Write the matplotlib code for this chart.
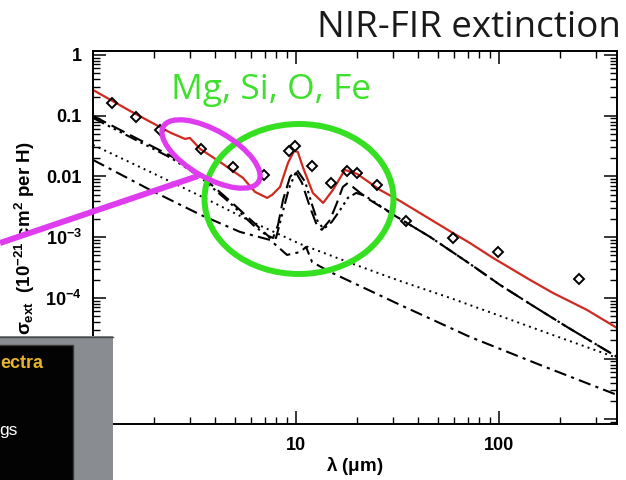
import matplotlib
matplotlib.use("Agg")
import matplotlib.pyplot as plt
from matplotlib.patches import Ellipse, Rectangle
from matplotlib.lines import Line2D
from matplotlib.ticker import FixedLocator, FixedFormatter, LogLocator, NullFormatter

plt.rcParams['mathtext.fontset'] = 'custom'
plt.rcParams['mathtext.rm'] = 'Liberation Sans:bold'
plt.rcParams['mathtext.it'] = 'Liberation Sans:bold'
plt.rcParams['mathtext.bf'] = 'Liberation Sans:bold'
plt.rcParams['font.family'] = ['Liberation Sans', 'DejaVu Sans']

# ---------------- data (wavelength in micron, sigma_ext in 1e-21 cm^2 per H) -------------
wl_total = [1.0, 1.52, 2.42, 2.84, 3.00, 3.37, 4.22, 5.48, 6.28, 7.20, 7.62, 8.34, 9.13,
            9.78, 10.2, 10.8, 12.1, 13.6, 15.2, 17.4, 20.0, 25.9, 32.5, 59.3, 71.9, 93.4,
            142, 184, 271, 381]
sig_total = [0.265, 0.120, 0.052, 0.0414, 0.043, 0.0284, 0.0173, 0.00945, 0.00556, 0.00443,
             0.00496, 0.0067, 0.0167, 0.0263, 0.0253, 0.0143, 0.00535, 0.00366, 0.0060,
             0.0128, 0.0110, 0.0060, 0.00395, 0.00117, 8.0e-4, 4.55e-4, 1.98e-4, 1.21e-4,
             6.34e-5, 3.2e-5]

wl_obs = [1.24, 1.63, 2.14, 3.40, 4.89, 6.96, 9.24, 9.89, 12.0, 14.9, 17.8, 20.0, 25.1,
          34.8, 59.3, 98.9, 248]
sig_obs = [0.162, 0.0953, 0.0583, 0.0284, 0.0143, 0.0106, 0.0263, 0.0318, 0.0149, 0.0078,
           0.0123, 0.0114, 0.00724, 0.00185, 9.7e-4, 5.7e-4, 2.05e-4]

wl_dash = [1.0, 1.52, 2.42, 3.37, 4.73, 6.14, 7.28, 7.70, 8.15, 8.63, 9.34, 9.89, 10.7, 11.7,
           12.7, 13.4, 14.7, 15.9, 17.0, 18.0, 20.7, 23.1, 31.4, 45.7, 71.9, 101, 147, 216, 381]
sig_dash = [0.099, 0.0482, 0.0217, 0.0106, 0.00395, 0.00178, 0.00105, 9.7e-4, 0.00159,
            0.0041, 0.0098, 0.0123, 0.00782, 0.00315, 0.00153, 0.00132, 0.00192, 0.00366,
            0.0067, 0.00782, 0.00535, 0.0041, 0.00215, 0.00101, 3.63e-4, 1.64e-4, 7.4e-5,
            3.33e-5, 1.07e-5]

wl_ddd = [1.0, 1.52, 2.42, 3.37, 4.73, 6.14, 7.45, 7.97, 8.53, 9.24, 10.1, 11.1, 12.0, 12.8,
          13.7, 15.0, 16.5, 18.0, 19.8, 21.9, 31.4, 45.7, 71.9, 101, 147, 216, 381]
sig_ddd = [0.0918, 0.0447, 0.0202, 0.0098, 0.00366, 0.00159, 9.7e-4, 9.7e-4, 0.00232,
           0.00647, 0.0128, 0.0081, 0.0034, 0.00178, 0.00137, 0.00178, 0.00281, 0.00443,
           0.00535, 0.00478, 0.00215, 0.00101, 3.63e-4, 1.64e-4, 7.4e-5, 3.33e-5, 1.07e-5]

wl_dot = [1.0, 1.91, 3.37, 5.93, 10.5, 18.5, 32.5, 57.4, 101, 178, 381]
sig_dot = [0.033, 0.0119, 0.00478, 0.00185, 7.7e-4, 3.77e-4, 1.9e-4, 1.0e-4, 5.06e-5,
           2.55e-5, 1.03e-5]

wl_dashdot = [1.0, 1.91, 3.40, 5.30, 7.45, 9.03, 10.5, 11.2, 12.0, 14.7, 32.5, 71.9, 159, 381]
sig_dashdot = [0.0187, 0.0060, 0.00232, 0.00122, 9.0e-4, 5.1e-4, 5.7e-4, 6.9e-4, 3.9e-4,
               2.68e-4, 7.7e-5, 2.28e-5, 7.9e-6, 2.53e-6]

x_major = [1, 10, 100]
x_labels = ['1', '10', '100']
y_major = [1e-6, 1e-5, 1e-4, 1e-3, 1e-2, 1e-1, 1]
y_labels = ['$10^{-6}$', '$10^{-5}$', '$10^{-4}$', '$10^{-3}$', '0.01', '0.1', '1']

title_text = 'NIR-FIR extinction'
element_text = 'Mg, Si, O, Fe'
inset_title = 'ectra'
inset_item = 'gs'

# ---------------- figure ---------------------------------------------------------------
W, H = 626, 480
fig = plt.figure(figsize=(W / 100, H / 100), dpi=100)
fig.patch.set_facecolor('white')


def fx(px):
    return px / W


def fy(py):
    return 1 - py / H


ax = fig.add_axes([fx(93), fy(424), fx(617) - fx(93), fy(51) - fy(424)])
ax.set_xscale('log')
ax.set_yscale('log')

lw = 1.5
ax.plot(wl_dot, sig_dot, color='black', lw=1.4, ls=(0, (1, 2.2)))
ax.plot(wl_dashdot, sig_dashdot, color='black', lw=lw, ls=(0, (6, 2.5, 1.5, 2.5)))
ax.plot(wl_ddd, sig_ddd, color='black', lw=lw, ls=(0, (6, 2, 1.2, 2, 1.2, 2, 1.2, 2)))
ax.plot(wl_dash, sig_dash, color='black', lw=lw, ls=(0, (7, 3)))
ax.plot(wl_total, sig_total, color='#cf2a1f', lw=1.6)
ax.plot(wl_obs, sig_obs, ls='none', marker='D', ms=4.8, mfc='none', mec='black', mew=1.4)

ax.set_xlim(1, 381)
ax.set_ylim(8.4e-7, 1.16)

ax.xaxis.set_major_locator(FixedLocator(x_major))
ax.xaxis.set_major_formatter(FixedFormatter(x_labels))
ax.xaxis.set_minor_locator(LogLocator(base=10, subs=[2, 3, 4, 5, 6, 7, 8, 9]))
ax.xaxis.set_minor_formatter(NullFormatter())
ax.yaxis.set_major_locator(FixedLocator(y_major))
ax.yaxis.set_major_formatter(FixedFormatter(y_labels))
ax.yaxis.set_minor_locator(LogLocator(base=10, subs=[2, 3, 4, 5, 6, 7, 8, 9], numticks=20))
ax.yaxis.set_minor_formatter(NullFormatter())

ax.tick_params(which='both', direction='in', top=True, right=True)
ax.tick_params(which='major', length=9.5, width=1.1, labelsize=13)
ax.tick_params(axis='x', which='major', pad=9)
ax.tick_params(axis='y', which='major', pad=8)
ax.tick_params(which='minor', length=5, width=1.0)
for lab in ax.get_xticklabels() + ax.get_yticklabels():
    lab.set_fontweight('bold')
for sp in ax.spines.values():
    sp.set_linewidth(1.4)

fig.text(fx(355), fy(466), 'λ ($\\mu$m)', ha='center', va='center',
         fontsize=13.5, fontweight='bold')
fig.text(fx(25), fy(238), '$\\sigma_{ext}$  (10$^{-21}$ cm$^{2}$ per H)', rotation=90,
         ha='center', va='center', fontsize=13.5, fontweight='bold')

# ---------------- slide overlays -------------------------------------------------------
ov = fig.add_axes([0, 0, 1, 1], zorder=10)
ov.set_xlim(0, W)
ov.set_ylim(H, 0)
ov.axis('off')
ov.patch.set_alpha(0)

ov.add_patch(Ellipse((299, 199), 189, 150, fill=False, ec='#35e021', lw=4.3))
ov.add_patch(Ellipse((211, 154), 110, 47, angle=30, fill=False, ec='#df3cf0', lw=3.8))
ov.add_line(Line2D([0, 198], [243, 176], color='#df3cf0', lw=4.3, solid_capstyle='butt'))

ov.text(621, 37, title_text, ha='right', va='baseline', fontsize=26.5,
        family=['Open Sans', 'DejaVu Sans'], fontweight='normal', color='#1a1a1a')
ov.text(171, 99, element_text, ha='left', va='baseline', fontsize=25.5,
        family=['Open Sans', 'DejaVu Sans'], fontweight='normal', color='#3ee02d')

# partial inset panel at bottom-left
ov.add_patch(Rectangle((0, 336), 113, 150, facecolor='#898c90', edgecolor='none'))
ov.add_line(Line2D([0, 113], [336.5, 336.5], color='#4a4a4a', lw=1.0))
ov.add_patch(Rectangle((-2, 345), 75, 140, facecolor='#030303', edgecolor='#3a3a3a', lw=1.0))
ov.text(0, 364, inset_title, ha='left', va='center', fontsize=13, fontweight='bold',
        color='#e8b42a')
ov.text(-1, 430, inset_item, ha='left', va='center', fontsize=12.5, color='white')

fig.savefig('out.png', dpi=100, facecolor='white')
